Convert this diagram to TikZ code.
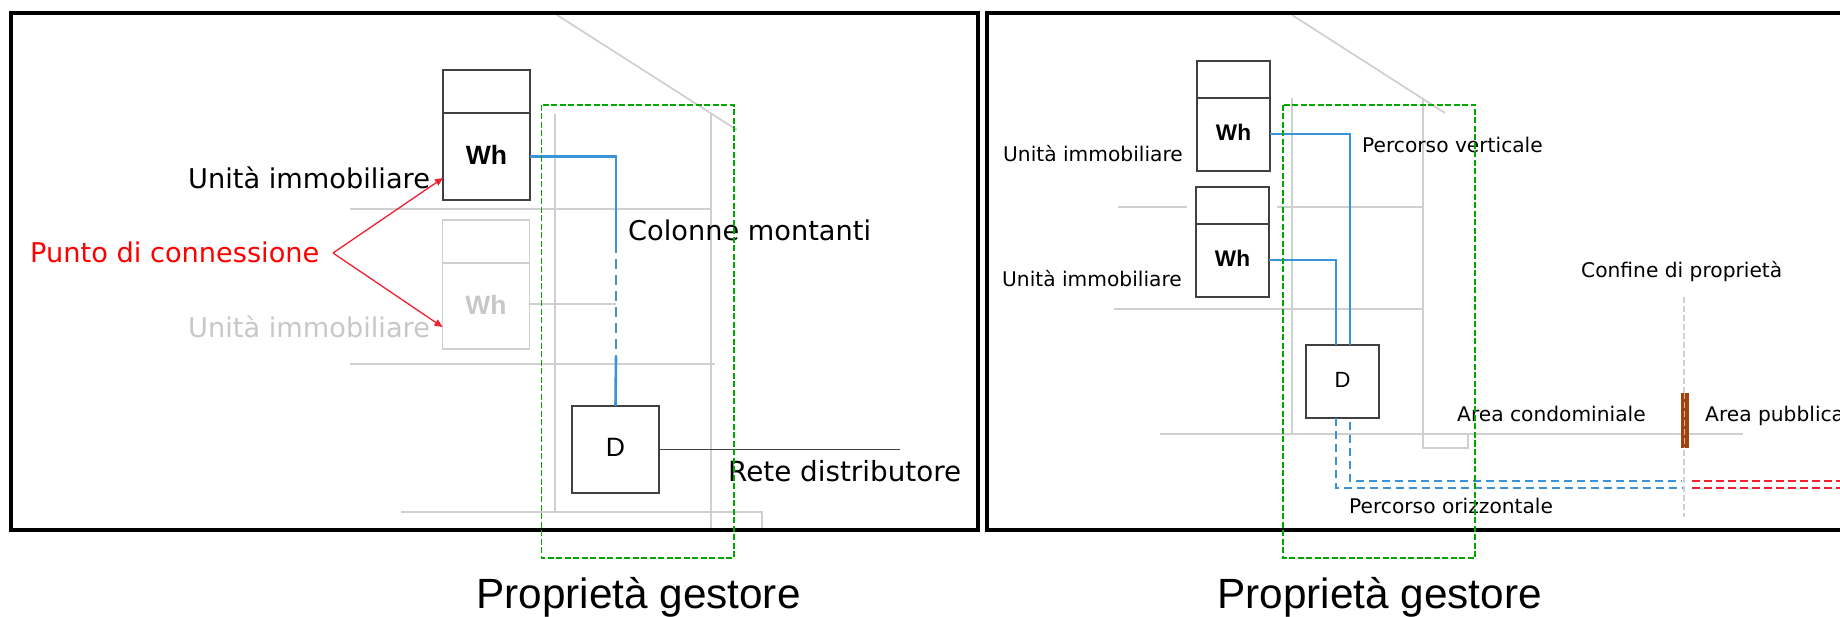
\documentclass[tikz,border=0pt]{standalone}
\usepackage{fontspec}
\setmainfont{DejaVu Sans}
\newfontfamily\arialf{Liberation Sans}
\usetikzlibrary{arrows.meta}
\definecolor{lgrey}{HTML}{CFCFCF}
\definecolor{gtext}{HTML}{C8C8C8}
\definecolor{dgrey}{HTML}{404040}
\definecolor{wire}{HTML}{3A93D6}
\definecolor{pgreen}{HTML}{00A800}
\definecolor{pred}{HTML}{F02030}
\definecolor{brownbar}{HTML}{A0420F}
\definecolor{barlight}{HTML}{E0B890}
\tikzset{
  x=1pt,y=-1pt,
  frameline/.style={draw=black,line width=4.5pt,line join=miter},
  wall/.style={draw=lgrey,line width=1.7pt},
  boxd/.style={draw=dgrey,line width=1.6pt,fill=white,rectangle,inner sep=0pt,outer sep=0pt},
  boxg/.style={draw=lgrey,line width=1.6pt,fill=white,rectangle,inner sep=0pt,outer sep=0pt},
  wireline/.style={draw=wire,line width=2pt},
  wirethick/.style={draw=wire,line width=2.6pt},
  wiredash/.style={draw=wire,line width=2pt,dash pattern=on 8pt off 5pt},
  wirethickdash/.style={draw=wire,line width=2.6pt,dash pattern=on 10pt off 6pt},
  reddash/.style={draw=pred,line width=2pt,dash pattern=on 8pt off 4pt},
  ownerbox/.style={draw=pgreen,line width=1.6pt,dash pattern=on 6pt off 2.5pt},
  redarrow/.style={draw=pred,line width=1.3pt,-{Triangle[length=8pt,width=7pt]}},
  bigtext/.style={inner sep=0pt,anchor=base west,font=\fontsize{27.2pt}{30pt}\selectfont},
  smalltext/.style={inner sep=0pt,anchor=base west,font=\fontsize{20.2pt}{24pt}\selectfont},
  captext/.style={inner sep=0pt,anchor=base west,font=\arialf\fontsize{42.3pt}{46pt}\selectfont},
  whbig/.style={font=\arialf\bfseries\fontsize{26.5pt}{28pt}\selectfont},
  whsmall/.style={font=\arialf\bfseries\fontsize{22.6pt}{24pt}\selectfont},
}
\begin{document}
\begin{tikzpicture}
\path[use as bounding box,clip] (0,0) rectangle (1840,617);
\fill[white] (0,0) rectangle (1840,617);
% left panel building
\draw[wall] (557,15) -- (737,130);
\draw[wall] (555,114) -- (555,512);
\draw[wall] (711,114) -- (711,530);
\draw[wall] (350,208.7) -- (711,208.7);
\draw[wall] (350,364) -- (714.5,364);
\draw[wall] (401,512) -- (762,512) -- (762,530);
% left meters
\node[boxd,minimum width=87pt,minimum height=43pt] (lmt) at (486.5,91.5) {};
\node[boxd,minimum width=87pt,minimum height=87pt,whbig] (lm) at (486.5,156.5) {\raisebox{4pt}{Wh}};
\node[boxg,minimum width=87pt,minimum height=43pt] (lgt) at (486,241.5) {};
\node[boxg,minimum width=87pt,minimum height=86pt,text=gtext,whbig] (lg) at (486,306) {\raisebox{3pt}{Wh}};
\node[boxd,minimum width=87pt,minimum height=87pt,font=\arialf\fontsize{26.5pt}{28pt}\selectfont] (ld) at (615.5,449.5) {\raisebox{3.5pt}{D}};
\coordinate (lc1) at (616,243);
\coordinate (lc2) at (616,357);
\coordinate (lc3) at (616,304);
\coordinate (lnet) at (900,449.5);
\draw[wirethick] (lm.east) -| (lc1);
\draw[wirethickdash] (lc1) -- (lc2);
\draw[wirethick] (lc2) -- (ld.north);
\draw[wall] (lg.east |- lc3) -- (lc3);
\draw[draw=dgrey,line width=1.6pt] (ld.east) -- (lnet);
% left texts
\node[bigtext] (t1) at (188,189) {Unità immobiliare};
\node[bigtext,text=gtext] (t2) at (188,338) {Unità immobiliare};
\node[bigtext,text=red] (t3) at (30,263) {Punto di connessione};
\node[bigtext] (t4) at (628,241) {Colonne montanti};
\node[bigtext,font=\fontsize{27.8pt}{30pt}\selectfont] (t5) at (728,482) {Rete distributore};
\coordinate (apex) at (333,253);
\draw[redarrow] (apex) -- (lm.west |- 0,178);
\draw[redarrow] (apex) -- (lg.west |- 0,327);
% right panel building
\draw[wall] (1292,15) -- (1445,113);
\draw[wall] (1292,98) -- (1292,434);
\draw[wall] (1423,98) -- (1423,448) -- (1468,448) -- (1468,434);
\draw[wall] (1118,207) -- (1187,207);
\draw[wall] (1277,207) -- (1423,207);
\draw[wall] (1114,309) -- (1423,309);
\draw[wall] (1160,434) -- (1743,434);
% right meters
\node[boxd,minimum width=73pt,minimum height=37pt] (rat) at (1233.5,79.5) {};
\node[boxd,minimum width=73pt,minimum height=73pt,whsmall] (ra) at (1233.5,134.5) {\raisebox{3.5pt}{Wh}};
\node[boxd,minimum width=73pt,minimum height=37pt] (rbt) at (1232.5,205.5) {};
\node[boxd,minimum width=73pt,minimum height=73pt,whsmall] (rb) at (1232.5,260.5) {\raisebox{3.5pt}{Wh}};
\node[boxd,minimum width=73pt,minimum height=73pt,font=\arialf\fontsize{22pt}{24pt}\selectfont] (rd) at (1342.5,381.5) {\raisebox{3.5pt}{D}};
\draw[wireline] (ra.east) -| ([xshift=7pt]rd.north);
\draw[wireline] (rb.east) -| ([xshift=-7pt]rd.north);
\coordinate (rs1) at (1682,488);
\coordinate (rs2) at (1682,481);
\coordinate (rs3) at (1350,422);
\draw[wiredash] ([xshift=-7pt]rd.south) |- (rs1);
\draw[wiredash] (rs3) |- (rs2);
\coordinate (rr1a) at (1692,481);
\coordinate (rr1b) at (1840,481);
\coordinate (rr2a) at (1692,488);
\coordinate (rr2b) at (1840,488);
\draw[reddash] (rr1a) -- (rr1b);
\draw[reddash] (rr2a) -- (rr2b);
% boundary
\draw[draw=lgrey,line width=1.5pt,dash pattern=on 6pt off 3pt] (1684,297) -- (1684,517);
\fill[brownbar] (1680.5,393) rectangle (1688.5,448);
\draw[draw=barlight,line width=1.4pt,dash pattern=on 6pt off 3pt] (1684.5,393) -- (1684.5,448);
% right texts
\node[smalltext] (u1) at (1003,162) {Unità immobiliare};
\node[smalltext] (u2) at (1002,287) {Unità immobiliare};
\node[smalltext] (u3) at (1362,153) {Percorso verticale};
\node[smalltext] (u4) at (1581,278) {Confine di proprietà};
\node[smalltext] (u5) at (1457,422) {Area condominiale};
\node[smalltext] (u6) at (1705,422) {Area pubblica};
\node[smalltext] (u7) at (1349,513) {Percorso orizzontale};
% frames
\draw[frameline] (11,13) rectangle (978,530);
\draw[frameline] (1840,13) -- (987,13) -- (987,530) -- (1840,530);
% ownership boxes
\draw[ownerbox] (541.6,105) rectangle (734,558);
\draw[ownerbox] (1283,105) rectangle (1475,558);
% captions
\node[captext] (c1) at (476,608) {Proprietà gestore};
\node[captext] (c2) at (1217,608) {Proprietà gestore};
\end{tikzpicture}
\end{document}
